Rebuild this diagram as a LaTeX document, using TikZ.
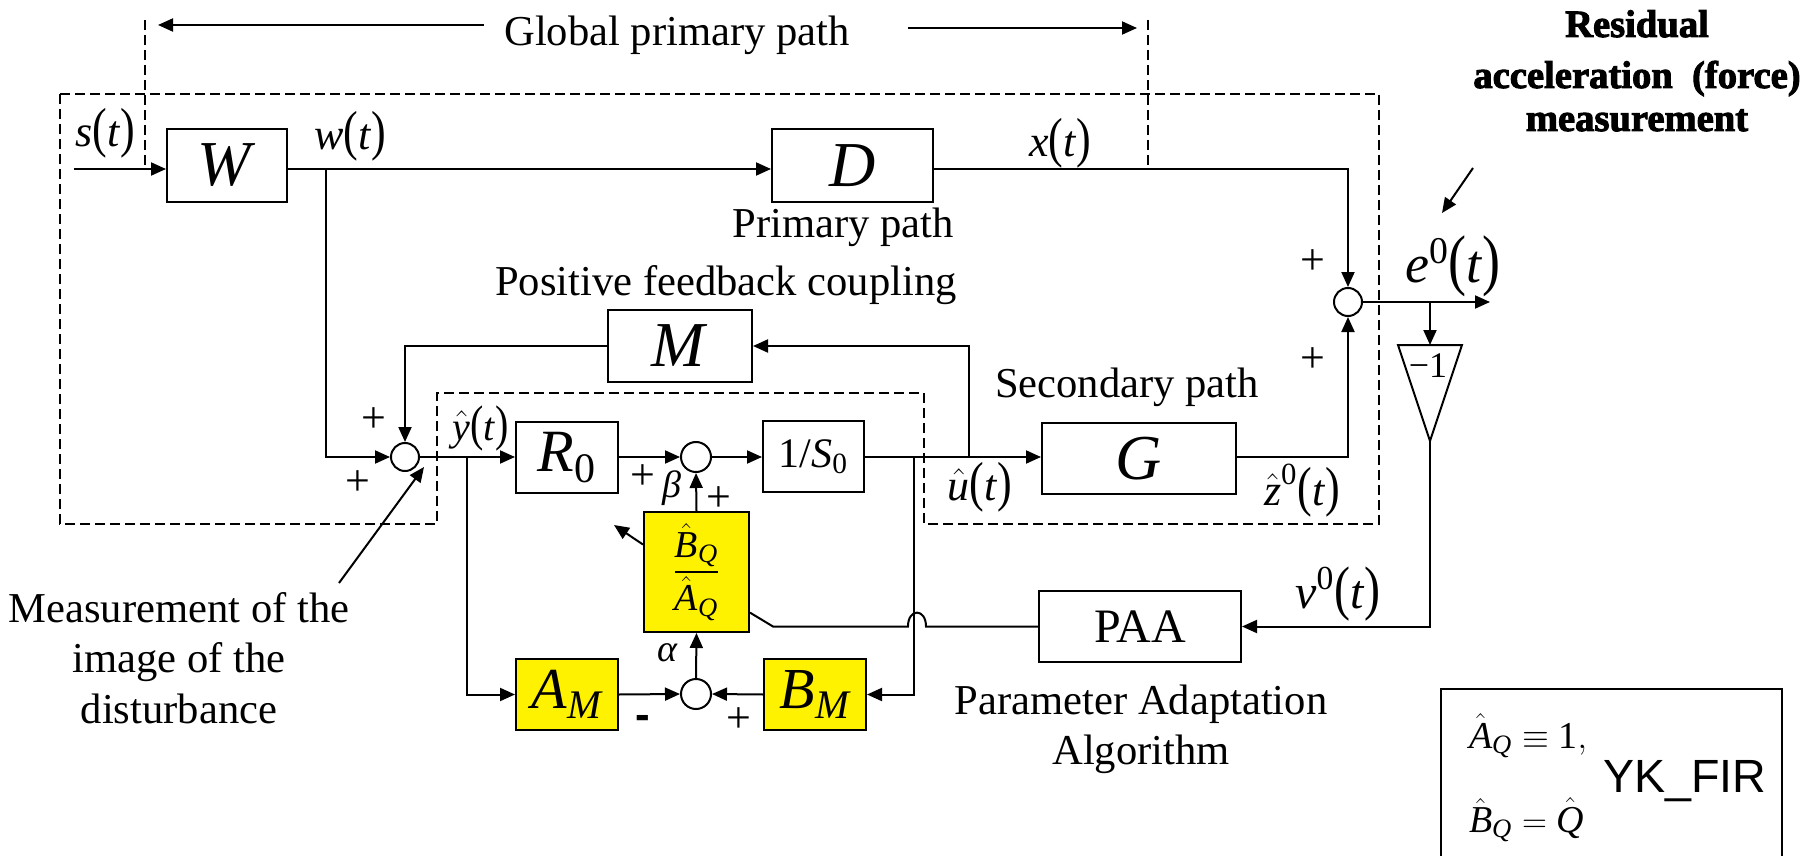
\documentclass[tikz,border=0pt]{standalone}
\usepackage{amsmath}
\usepackage{fontspec}
\setmainfont{Liberation Serif}
\newfontfamily\arialfam{Liberation Sans}
\newfontfamily\heavyfam{Liberation Serif}[FakeBold=2.5]
\usetikzlibrary{arrows.meta,calc}
\newcommand{\fsz}[1]{\fontsize{#1}{#1}\selectfont}
\newcommand{\myp}[1]{\scalebox{1}[1.25]{(}#1\scalebox{1}[1.25]{)}}
\newcommand{\oft}{\myp{\textit{t}}}
\begin{document}
\begin{tikzpicture}[x=0.5pt,y=-0.5pt,line width=1pt,
  arr/.style={-{Triangle[length=7.5pt,width=6.5pt]}},
  box/.style={draw,inner sep=0pt,fill=white},
  ybox/.style={draw,inner sep=0pt,fill=yellow},
  sumc/.style={draw,circle,inner sep=0pt,minimum size=14pt,fill=white},
  sumd/.style={draw,circle,inner sep=0pt,minimum size=15pt,fill=white},
  dsh/.style={dash pattern=on 5pt off 2.5pt},
  lbl/.style={inner sep=0pt,anchor=base},
  txt/.style={inner sep=0pt,anchor=base,font=\fsz{21.3}},
  pls/.style={inner sep=0pt,font=\fsz{22}}]
\useasboundingbox (0,0) rectangle (1806,856);

% dashed outline
\draw[dsh] (60,94) -- (1379,94) -- (1379,524) -- (924,524) -- (924,393) -- (437,393) -- (437,524) -- (60,524) -- cycle;
\draw[dsh] (145,20) -- (145,169);
\draw[dsh] (1148,20) -- (1148,169);

% global primary path
\node[txt] (gpp) at (677,46) {Global primary path};
\coordinate (gl1) at (484,25);
\coordinate (gl2) at (158,25);
\coordinate (gr1) at (908,28);
\coordinate (gr2) at (1137,28);
\draw[arr] (gl1) -- (gl2);
\draw[arr] (gr1) -- (gr2);

% blocks
\node[box,minimum width=60pt,minimum height=36.5pt] (W) at (227,165.5) {\fsz{32}\textit{W}};
\node[box,minimum width=80.5pt,minimum height=36.5pt] (D) at (852.5,165.5) {\fsz{32}\textit{D}};
\node[box,minimum width=72pt,minimum height=36pt] (M) at (680,346) {\fsz{32}\textit{M}};
\node[box,minimum width=51pt,minimum height=35.5pt] (R0) at (567,457.5) {\fsz{30}\(\textit{R}_{\textup{0}}\)};
\node[box,minimum width=50.5pt,minimum height=35.5pt] (S0) at (813.5,456.5) {\fsz{21}1/\(\textit{S}_{\textup{0}}\)};
\node[box,minimum width=97pt,minimum height=35.5pt] (G) at (1139,458.5) {\fsz{32}\textit{G}};
\node[ybox,minimum width=52.5pt,minimum height=60pt] (BQ) at (696.5,572) {\fsz{19}\(\dfrac{\hat{\textit{B}}_{\textit{Q}}}{\hat{\textit{A}}_{\textit{Q}}}\)};
\node[ybox,minimum width=51pt,minimum height=35.5pt] (AM) at (567,694.5) {\fsz{29}\(\textit{A}_{\textit{M}}\)};
\node[ybox,minimum width=51pt,minimum height=35.5pt] (BM) at (815,694.5) {\fsz{29}\(\textit{B}_{\textit{M}}\)};
\node[box,minimum width=101pt,minimum height=35.5pt] (PAA) at (1140,626.5) {\fsz{24}PAA};

% summing junctions
\node[sumc] (S1) at (405,457) {};
\node[sumd] (S2) at (696,457) {};
\node[sumd] (S3) at (696,694) {};
\node[sumc] (S4) at (1348,302) {};

% gain -1
\coordinate (tl) at (1398,345);
\coordinate (tr) at (1462,345);
\coordinate (ttop) at (1430,345);
\coordinate (tap) at (1430,441);
\draw (tl) -- (tr) -- (tap) -- cycle;
\node[inner sep=0pt,font=\fsz{18}] (gain) at (1428,366) {−1};

% connectors
\coordinate (in) at (74,169);
\coordinate (wb) at (326,169);
\coordinate (yb) at (467,457);
\coordinate (ub1) at (914,457);
\coordinate (ub2) at (969,457);
\coordinate (eout) at (1490,302);
\coordinate (eb) at (1430,302);
\draw[arr] (in) -- (in -| W.west);
\draw[arr] (W.east |- in) -- (D.west |- in);
\draw[arr] (wb) |- (S1.west);
\draw[arr] (D.east |- in) -| (S4.north);
\draw[arr] (G.east |- S2) -| (S4.south);
\draw[arr] (S4.east) -- (eout);
\draw[arr] (eb) -- (ttop);
\draw[arr] (tap) |- (PAA.east);
\draw[arr] (M.west) -| (S1.north);
\draw[arr] (S1.east) -- (R0.west |- S1);
\draw[arr] (yb) |- (AM.west);
\draw[arr] (R0.east |- S2) -- (S2.west);
\draw[arr] (S2.east) -- (S0.west |- S2);
\draw[arr] (S0.east |- S2) -- (G.west |- S2);
\draw[arr] (ub2) |- (M.east);
\draw[arr] (ub1) |- (BM.east);
\draw[arr] (BQ.north) -- (S2.south);
\draw[arr] (S3.north) -- (BQ.south);
\draw[arr] (AM.east) -- (S3.west);
\draw[arr] (BM.west) -- (S3.east);
\coordinate (bqa) at ($(BQ.north west)!0.275!(BQ.south west)$);
\coordinate (bqtip) at (614,525);
\draw[arr] (bqa) -- (bqtip);
\coordinate (bqr) at ($(BQ.north east)!0.833!(BQ.south east)$);
\draw (PAA.west) -- (926,626.5) .. controls (926,608) and (908,608) .. (908,626.5) -- (773,626.5) -- (bqr);

% measurement arrows
\coordinate (ma1) at (339,583);
\coordinate (ma2) at (424,467);
\draw[arr] (ma1) -- (ma2);
\coordinate (ra1) at (1473,168);
\coordinate (ra2) at (1442,213);
\draw[arr] (ra1) -- (ra2);

% YK box
\coordinate (yk1) at (1441,870);
\coordinate (yk2) at (1441,689);
\coordinate (yk3) at (1782,689);
\coordinate (yk4) at (1782,870);
\draw (yk1) -- (yk2) -- (yk3) -- (yk4);
\node[lbl,anchor=base west,font=\fsz{19}] (aq) at (1468,748) {\(\hat{\textit{A}}_{\textit{Q}}\equiv\textup{1},\)};
\node[lbl,anchor=base west,font=\fsz{19}] (bq) at (1468,832) {\(\hat{\textit{B}}_{\textit{Q}}=\hat{\textit{Q}}\)};
\node[lbl,anchor=base west,font=\arialfam\fsz{23.3}] (yk) at (1602,792) {YK\_FIR};

% signal labels
\node[lbl,font=\fsz{22}] (st) at (105,147) {\textit{s}\oft};
\node[lbl,font=\fsz{22}] (wt) at (350,150) {\textit{w}\oft};
\node[lbl,font=\fsz{22}] (xt) at (1060,157) {\textit{x}\oft};
\node[lbl,font=\fsz{20}] (yt) at (481,440) {\(\hat{\textit{y}}\)\oft};
\node[lbl,font=\fsz{22}] (ut) at (980,500) {\(\hat{\textit{u}}\)\oft};
\node[lbl,font=\fsz{22}] (zt) at (1302,505) {\(\hat{\textit{z}}^{\textup{0}}\)\oft};
\node[lbl,font=\fsz{27}] (et) at (1453,282) {\(\textit{e}^{\textup{0}}\)\oft};
\node[lbl,font=\fsz{24}] (nt) at (1338,608) {\(\textit{ν}^{\textup{0}}\)\oft};
\node[inner sep=0pt,font=\fsz{19}] (al) at (668,653) {\textit{α}};
\node[inner sep=0pt,font=\fsz{19}] (be) at (672,488) {\textit{β}};

% signs
\node[pls] (p1) at (1313,262) {+};
\node[pls] (p2) at (1313,360) {+};
\node[pls] (p3) at (374,420) {+};
\node[pls] (p4) at (358,483) {+};
\node[pls] (p5) at (643,477) {+};
\node[pls] (p6) at (719,499) {+};
\node[pls] (p7) at (739,720) {+};
\node[inner sep=0pt,font=\arialfam\bfseries\fsz{22}] (m1) at (643,722) {-};

% text
\node[txt] (pp) at (843,237) {Primary path};
\node[txt] (pfc) at (726,295) {Positive feedback coupling};
\node[txt] (sp) at (1127,397) {Secondary path};
\node[txt] (paa1) at (1141,714) {Parameter Adaptation};
\node[txt] (paa2) at (1141,764) {Algorithm};
\node[txt] (md1) at (179,622) {Measurement of the};
\node[txt] (md2) at (179,672) {image of the};
\node[txt] (md3) at (179,723) {disturbance};
\node[lbl,font=\heavyfam\bfseries\fsz{19.3}] (r1) at (1637,37) {Residual};
\node[lbl,font=\heavyfam\bfseries\fsz{19.3}] (r2) at (1637,88) {acceleration\ \ (force)};
\node[lbl,font=\heavyfam\bfseries\fsz{19.3}] (r3) at (1637,131) {measurement};
\end{tikzpicture}
\end{document}
